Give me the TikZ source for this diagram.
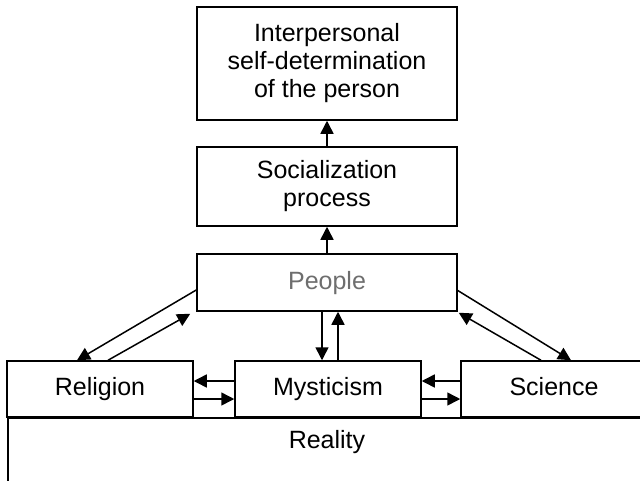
\documentclass[tikz,border=0pt]{standalone}
\usepackage{fontspec}
\setmainfont{Liberation Sans}
\usetikzlibrary{arrows.meta}
\definecolor{peoplegray}{RGB}{110,110,110}

\tikzset{
  box/.style={draw,line width=1.5pt,align=center,inner sep=0pt,
    font=\fontsize{25}{28}\selectfont},
  way/.style={box,minimum width=186pt,minimum height=56pt,text height=18pt,text depth=5pt},
  link/.style={-{Triangle[length=13pt,width=13pt]},line width=1.5pt},
}

\begin{document}
\begin{tikzpicture}[x=1pt,y=-1pt]
  \useasboundingbox (0,0) rectangle (640,480);
  \clip (0,0) rectangle (640,480);
  % base
  \node[box,anchor=north west,minimum width=660pt,minimum height=100pt] (reality) at (7,417) {};
  \node[box,draw=none,text height=18pt,text depth=5pt] (realitytext) at (327,442) {Reality};
  % upper chain
  \node[box,minimum width=260pt,minimum height=113pt] (self) at (327,63.5)
    {Interpersonal\\self-determination\\of the person};
  \node[box,minimum width=260pt,minimum height=79pt] (social) at (327,186.5)
    {Socialization\\process};
  \node[box,minimum width=260pt,minimum height=57pt,text height=18pt,text depth=5pt,
    text=peoplegray] (people) at (327,282.5) {People};
  % three ways
  \node[way] (religion) at (100,389) {Religion};
  \node[way] (mystic) at (328,389) {Mysticism};
  \node[way] (science) at (554,389) {Science};

  \draw[link] (social) -- (self);
  \draw[link] (people) -- (social);
  \draw[link] ([xshift=-5pt]people.south) -- ([xshift=-6pt]mystic.north);
  \draw[link] ([xshift=10pt]mystic.north) -- ([xshift=11pt]people.south);
  \draw[link] ([yshift=8pt]mystic.west) -- ([yshift=8pt]religion.east);
  \draw[link] ([yshift=-10pt]religion.east) -- ([yshift=-10pt]mystic.west);
  \draw[link] ([yshift=8pt]science.west) -- ([yshift=8pt]mystic.east);
  \draw[link] ([yshift=-10pt]mystic.east) -- ([yshift=-10pt]science.west);
  % diagonals
  \draw[link] ([yshift=-7.5pt]people.west) -- ([xshift=-23pt]religion.north);
  \draw[link] ([xshift=8pt]religion.north) -- ([xshift=-6pt,yshift=-2pt]people.south west);
  \draw[link] ([yshift=-8pt]people.east) -- ([xshift=17pt]science.north);
  \draw[link] ([xshift=-13pt]science.north) -- ([xshift=1pt,yshift=-1pt]people.south east);
\end{tikzpicture}
\end{document}
